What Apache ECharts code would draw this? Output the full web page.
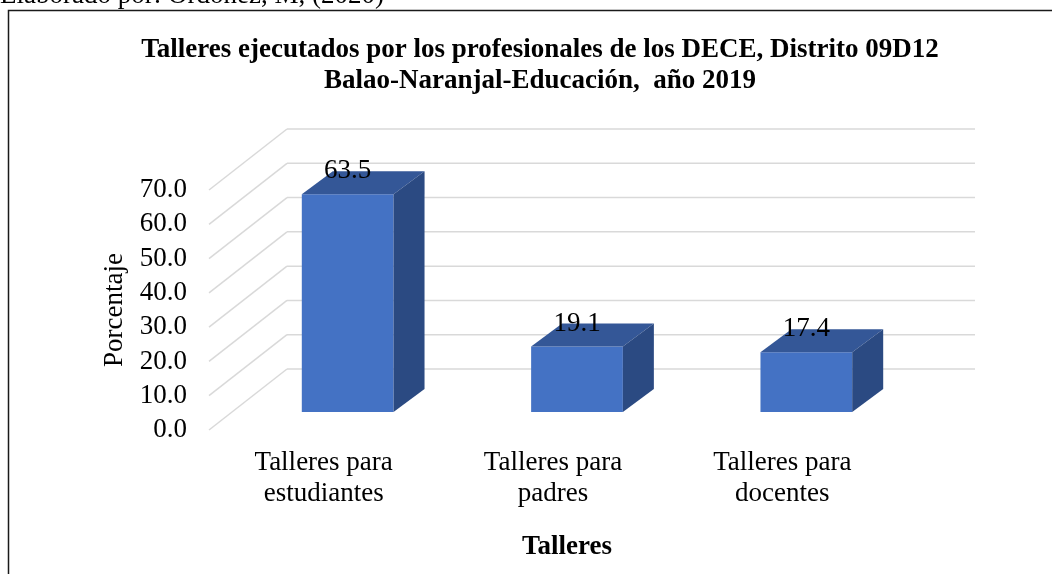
<!DOCTYPE html>
<html>
<head>
<meta charset="utf-8">
<script src="https://cdn.jsdelivr.net/npm/echarts@6/dist/echarts.min.js"></script>
<style>
  html, body { margin: 0; padding: 0; background: #fff; }
  #chart { width: 1052px; height: 574px; }
</style>
</head>
<body>
<div id="chart"></div>
<script>
// datos del grafico
const categories = ['Talleres para\nestudiantes', 'Talleres para\npadres', 'Talleres para\ndocentes']
const values = [63.5, 19.1, 17.4]
const yTicks = [0, 10, 20, 30, 40, 50, 60, 70]

const FONT = "'Liberation Serif', 'Times New Roman', serif"
// profundidad de la pared y de las barras (px)
const WALL_DX = 78, WALL_DY = -61
const BAR_OX = 24, BAR_OY = -18
const BAR_DX = 31, BAR_DY = -23

const chart = echarts.init(document.getElementById('chart'), null, { renderer: 'canvas' })

function renderGrid(params, api) {
  const cs = params.coordSys
  const y = api.coord([0, api.value(1)])[1]
  const x0 = cs.x
  const bx = x0 + WALL_DX, by = y + WALL_DY
  const style = { stroke: '#d9d9d9', lineWidth: 1.5 }
  return {
    type: 'group',
    children: [
      { type: 'line', shape: { x1: x0, y1: y, x2: bx, y2: by }, style: style },
      { type: 'line', shape: { x1: bx, y1: by, x2: cs.x + cs.width + WALL_DX, y2: by }, style: style }
    ]
  }
}

function renderBar(params, api) {
  const top = api.coord([api.value(0), api.value(1)])
  const base = api.coord([api.value(0), 0])
  const w = api.size([1, 0])[0] * 0.4
  const xl = top[0] - w / 2 + BAR_OX, xr = xl + w
  const yt = top[1] + BAR_OY, yb = base[1] + BAR_OY
  return {
    type: 'group',
    children: [
      { type: 'rect', shape: { x: xl, y: yt, width: w, height: yb - yt },
        style: { fill: '#4472c4' } },
      { type: 'polygon', shape: { points: [[xl, yt], [xl + BAR_DX, yt + BAR_DY], [xr + BAR_DX, yt + BAR_DY], [xr, yt]] },
        style: { fill: '#345797' } },
      { type: 'polygon', shape: { points: [[xr, yt], [xr + BAR_DX, yt + BAR_DY], [xr + BAR_DX, yb + BAR_DY], [xr, yb]] },
        style: { fill: '#2b4a82' } },
      { type: 'text', style: { text: api.value(1).toFixed(1), x: (xl + xr) / 2, y: yt + BAR_DY,
        textAlign: 'center', textVerticalAlign: 'middle', font: '27px ' + FONT, fill: '#000' } }
    ]
  }
}

const option = {
  animation: false,
  backgroundColor: '#fff',
  grid: { left: 209, right: 155, top: 190, bottom: 144 },
  xAxis: {
    type: 'category',
    data: categories,
    axisLine: { show: false },
    axisTick: { show: false },
    axisLabel: { color: '#000', fontFamily: FONT, fontSize: 27, lineHeight: 31, margin: 17 }
  },
  yAxis: {
    type: 'value',
    min: 0, max: 70, interval: 10,
    name: 'Porcentaje',
    nameLocation: 'middle',
    nameGap: 76,
    nameTextStyle: { color: '#000', fontFamily: FONT, fontSize: 27 },
    splitLine: { show: false },
    axisLine: { show: false },
    axisTick: { show: false },
    axisLabel: { color: '#000', fontFamily: FONT, fontSize: 27, margin: 22,
      formatter: v => v.toFixed(1) }
  },
  series: [
    { type: 'custom', renderItem: renderGrid, data: yTicks.map(t => [0, t]), z: 1, clip: false, silent: true },
    { type: 'custom', renderItem: renderBar, data: values.map((v, i) => [i, v]), z: 2, clip: false }
  ],
  graphic: [
    { type: 'polyline', shape: { points: [[8.5, 574], [8.5, 10.5], [1052, 10.5]] },
      style: { stroke: '#1a1a1a', lineWidth: 1.5, fill: null } },
    { type: 'text', left: 0, top: -18,
      style: { text: 'Elaborado por: Ordoñez, M, (2020)', font: '27px ' + FONT, fill: '#000' } },
    { type: 'text', x: 540, y: 66,
      style: { text: 'Talleres ejecutados por los profesionales de los DECE, Distrito 09D12\nBalao-Naranjal-Educación,  año 2019',
        textAlign: 'center', textVerticalAlign: 'middle', lineHeight: 31,
        font: 'bold 27px ' + FONT, fill: '#000' } },
    { type: 'text', x: 567, y: 547,
      style: { text: 'Talleres', textAlign: 'center', textVerticalAlign: 'middle',
        font: 'bold 27px ' + FONT, fill: '#000' } }
  ]
}

chart.setOption(option)
</script>
</body>
</html>
